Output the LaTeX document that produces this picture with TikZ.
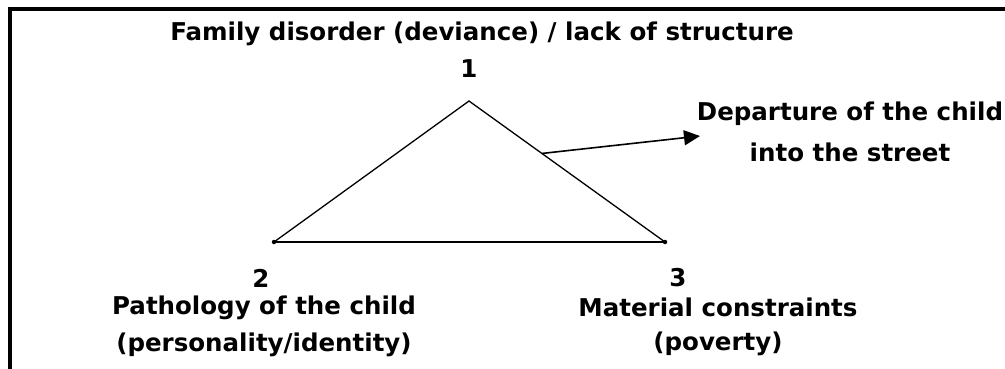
\documentclass[tikz,border=0pt]{standalone}
\usepackage{fontspec}
\setmainfont{DejaVu Sans}
\usetikzlibrary{arrows.meta,calc}
\begin{document}
\begin{tikzpicture}[x=1pt,y=-1pt,
  lbl/.style={font=\bfseries\fontsize{24.5}{28}\selectfont, inner sep=0pt, anchor=center},
  num/.style={font=\bfseries\fontsize{24.5}{28}\selectfont, inner sep=0pt, anchor=center},
  edge/.style={line width=1.3pt, black},
  vdot/.style={circle, fill=black, inner sep=0pt, minimum size=4.5pt}]
\useasboundingbox (0,0) rectangle (1005,368);
\fill[white] (0,0) rectangle (1005,368);
% frame
\draw[line width=3.2pt] (10,380) -- (10,9) -- (1010,9);
% vertices
\coordinate (v1) at (469,101);
\node[vdot] (v2) at (274,242) {};
\node[vdot] (v3) at (665,242) {};
\draw[edge] (v2.center) -- (v1) -- (v3.center);
\draw[line width=2pt] (v2.center) -- (v3.center);
% arrow
\coordinate (s) at ($ (v1)!0.372!(v3.center) $);
\coordinate (t) at (700,136);
\draw[line width=1.6pt, -{Triangle[length=16pt,width=15pt]}] (s) -- (t);
% labels
\node[lbl] (top) at (482,34) {Family disorder (deviance) / lack of structure};
\node[num] (n1) at (469,69) {1};
\node[lbl] (dep1) at (850,114) {Departure of the child};
\node[lbl] (dep2) at (850,152) {into the street};
\node[num] (n2) at (261,278) {2};
\node[num] (n3) at (678,278) {3};
\node[lbl] (p1) at (264,308) {Pathology of the child};
\node[lbl] (p2) at (264,345) {(personality/identity)};
\node[lbl] (m1) at (718,307) {Material constraints};
\node[lbl] (m2) at (718,344) {(poverty)};
\end{tikzpicture}
\end{document}
